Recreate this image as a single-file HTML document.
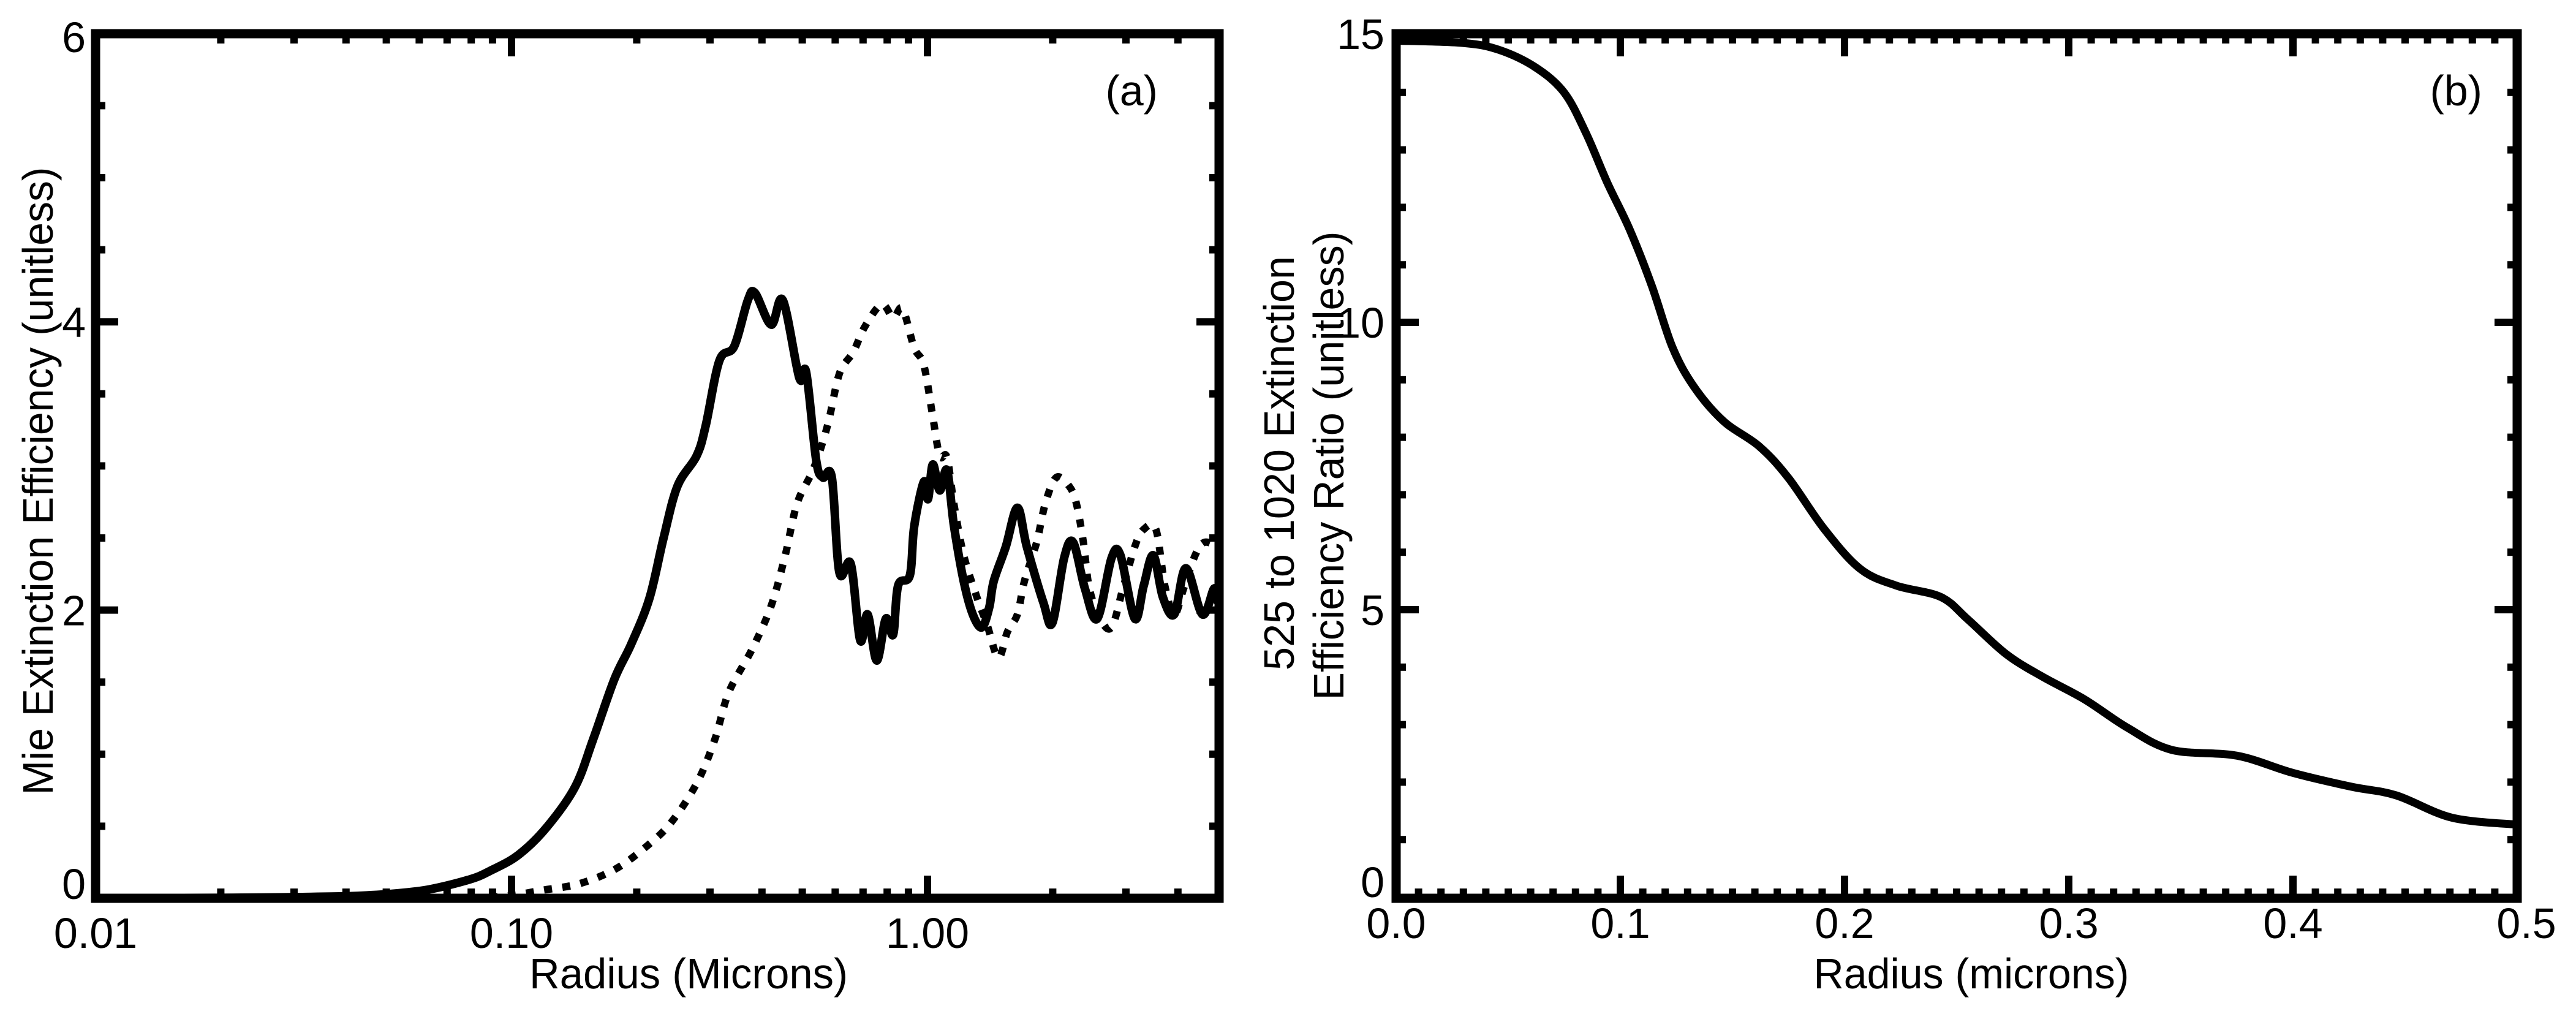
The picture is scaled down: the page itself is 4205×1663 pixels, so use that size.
<!DOCTYPE html>
<html><head><meta charset="utf-8"><style>
html,body{margin:0;padding:0;background:#fff;}
svg{display:block;}
text{font-family:"Liberation Sans",Arial,sans-serif;fill:#000;}
</style></head><body>
<svg id="fig" width="4205" height="1663" viewBox="0 0 4205 1663" xmlns="http://www.w3.org/2000/svg"></svg>
<script>
// ---- Panel (a) data ----
const aSolidR=[0.01,0.02,0.03,0.041,0.051,0.063,0.0792,0.0888,0.1038,0.1213,0.142,0.157,0.1767,0.1937,0.2145,0.232,0.2506,0.2786,0.293,0.316,0.343,0.37,0.385,0.421,0.449,0.492,0.511,0.54,0.56,0.589,0.614,0.654,0.689,0.718,0.755,0.794,0.827,0.85,0.907,0.929,0.98,1.003,1.03,1.07,1.114,1.157,1.222,1.285,1.352,1.408,1.443,1.543,1.645,1.733,1.9,1.996,2.13,2.24,2.39,2.56,2.77,2.91,3.15,3.31,3.49,3.68,3.92,4.18,4.58,4.89,5.0];
const aSolidQ=[0,0.003,0.008,0.015,0.03,0.06,0.13,0.19,0.3,0.49,0.77,1.10,1.52,1.76,2.08,2.5,2.86,3.07,3.28,3.73,3.83,4.15,4.2,3.98,4.15,3.61,3.65,3.04,2.92,2.92,2.26,2.32,1.79,1.97,1.65,1.94,1.83,2.17,2.24,2.58,2.89,2.77,3.01,2.83,2.97,2.59,2.2,1.97,1.88,2.02,2.2,2.44,2.71,2.44,2.05,1.91,2.36,2.47,2.15,1.94,2.36,2.38,1.94,2.17,2.38,2.09,1.97,2.29,1.97,2.15,2.05];
const aDotR=[0.08,0.1,0.118,0.145,0.177,0.209,0.241,0.279,0.308,0.333,0.379,0.421,0.455,0.486,0.532,0.575,0.614,0.663,0.708,0.776,0.827,0.871,0.929,0.98,1.03,1.07,1.114,1.157,1.222,1.318,1.39,1.48,1.557,1.645,1.71,1.83,1.92,2.04,2.19,2.28,2.37,2.45,2.6,2.77,2.95,3.15,3.31,3.54,3.72,3.92,4.13,4.4,4.63,5.0];
const aDotQ=[0,0.02,0.055,0.1,0.2,0.35,0.52,0.8,1.1,1.43,1.73,2.03,2.38,2.74,2.98,3.28,3.64,3.79,3.97,4.12,4.03,4.09,3.82,3.7,3.34,3.07,3.06,2.74,2.38,2.08,1.9,1.67,1.85,1.97,2.2,2.47,2.74,2.92,2.86,2.74,2.47,2.15,1.94,1.88,2.15,2.44,2.56,2.56,2.17,1.97,2.15,2.38,2.47,2.44];
const aXTicks=[0.01,0.1,1];
const aXTickLabels=["0.01","0.10","1.00"];
const aYTicks=[0,2,4,6];
const aYTickLabels=["0","2","4","6"];
// ---- Panel (b) data ----
const bR=[0.0,0.0298,0.0459,0.062,0.0749,0.0846,0.0943,0.104,0.114,0.1233,0.133,0.146,0.162,0.175,0.191,0.207,0.223,0.243,0.255,0.272,0.288,0.307,0.326,0.346,0.375,0.4,0.426,0.446,0.471,0.5];
const bRatio=[14.9,14.86,14.74,14.44,14.0,13.3,12.42,11.63,10.64,9.56,8.87,8.28,7.84,7.29,6.4,5.71,5.42,5.22,4.83,4.23,3.84,3.44,2.95,2.56,2.46,2.16,1.92,1.77,1.38,1.26];
const bXTicks=[0,0.1,0.2,0.3,0.4,0.5];
const bXTickLabels=["0.0","0.1","0.2","0.3","0.4","0.5"];
const bYTicks=[0,5,10,15];
const bYTickLabels=["0","5","10","15"];

const NS="http://www.w3.org/2000/svg";
const svg=document.getElementById('fig');
function mk(tag,attrs,parent){const e=document.createElementNS(NS,tag);for(const k in attrs)e.setAttribute(k,attrs[k]);(parent||svg).appendChild(e);return e;}

const A={x0:156,x1:1990,y0:1466,y1:55};
const B={x0:2279,x1:4109,y0:1466,y1:55};
const ax=r=>A.x0+679*Math.log10(r/0.01);
const ay=q=>A.y0-q*235.2;
const bx=r=>B.x0+r*3660;
const by=v=>1464-v*93.8;

function smoothPath(pts){
  let d='M'+pts[0][0].toFixed(1)+','+pts[0][1].toFixed(1);
  for(let i=0;i<pts.length-1;i++){
    const p0=pts[Math.max(i-1,0)],p1=pts[i],p2=pts[i+1],p3=pts[Math.min(i+2,pts.length-1)];
    const c1x=p1[0]+(p2[0]-p0[0])/6,c1y=p1[1]+(p2[1]-p0[1])/6;
    const c2x=p2[0]-(p3[0]-p1[0])/6,c2y=p2[1]-(p3[1]-p1[1])/6;
    d+='C'+c1x.toFixed(1)+','+c1y.toFixed(1)+' '+c2x.toFixed(1)+','+c2y.toFixed(1)+' '+p2[0].toFixed(1)+','+p2[1].toFixed(1);
  }
  return d;
}

function box(P,name){
  const g=mk('g',{});
  
  
  mk('rect',{x:P.x0,y:P.y1,width:P.x1-P.x0,height:P.y0-P.y1,fill:'none',stroke:'#000','stroke-width':15},g);
  return g;
}
function xtick(g,x,P,len){
  mk('line',{x1:x,y1:P.y0,x2:x,y2:P.y0-len,stroke:'#000','stroke-width':12},g);
  mk('line',{x1:x,y1:P.y1,x2:x,y2:P.y1+len,stroke:'#000','stroke-width':12},g);
}
function ytick(g,y,P,len){
  mk('line',{x1:P.x0,y1:y,x2:P.x0+len,y2:y,stroke:'#000','stroke-width':12},g);
  mk('line',{x1:P.x1,y1:y,x2:P.x1-len,y2:y,stroke:'#000','stroke-width':12},g);
}
function txt(s,attrs,name){
  const t=mk('text',attrs);t.textContent=s;
  
  
  return t;
}

// ===== Panel A =====
const gA=box(A,'panel-a-axes');
const gAt=mk('g',{});


for(let d=0.01;d<5;d*=10){for(let m=1;m<10;m++){const r=d*m;if(r>5)break;xtick(gAt,ax(r),A,m===1?37:16);}}
for(let q=0.5;q<6;q+=0.5){ytick(gAt,ay(q),A,(q%2===0)?37:16);}
aXTicks.forEach((v,i)=>{txt(aXTickLabels[i],{x:ax(v),y:1547,'font-size':70,'text-anchor':'middle'},'panel-a-x-tick-label');});
aYTicks.forEach((v,i)=>{let yb=ay(v)+25;if(v===0)yb=1467;if(v===6)yb=85;txt(aYTickLabels[i],{x:140,y:yb,'font-size':70,'text-anchor':'end'},'panel-a-y-tick-label');});
txt('Radius (Microns)',{x:1124,y:1613,'font-size':70,'text-anchor':'middle',textLength:520,lengthAdjust:'spacingAndGlyphs'},'panel-a-x-axis-title');
txt('Mie Extinction Efficiency (unitless)',{x:0,y:0,'font-size':70,'text-anchor':'middle',textLength:1025,lengthAdjust:'spacingAndGlyphs',transform:'translate(86,785) rotate(-90)'},'panel-a-y-axis-title');
txt('(a)',{x:1890,y:172,'font-size':70,'text-anchor':'end'},'panel-a-label');
const cp=mk('clipPath',{id:'clipA'});
mk('rect',{x:A.x0,y:A.y1,width:A.x1-A.x0,height:A.y0-A.y1},cp);
const solidA=mk('path',{d:smoothPath(aSolidR.map((r,i)=>[ax(r),ay(aSolidQ[i])])),fill:'none',stroke:'#000','stroke-width':14,'stroke-linejoin':'round','clip-path':'url(#clipA)'});


const dotA=mk('path',{d:smoothPath(aDotR.map((r,i)=>[ax(r),ay(aDotQ[i])])),fill:'none',stroke:'#000','stroke-width':12,'stroke-dasharray':'13 17','clip-path':'url(#clipA)'});



// ===== Panel B =====
const gB=box(B,'panel-b-axes');
const gBt=mk('g',{});


for(let k=1;k<50;k++){xtick(gBt,bx(k/100),B,k%10===0?37:16);}
for(let v=1;v<15;v++){ytick(gBt,by(v),B,v%5===0?37:16);}
bXTicks.forEach((v,i)=>{txt(bXTickLabels[i],{x:bx(v)+(v===0.5?15:0),y:1531,'font-size':70,'text-anchor':'middle'},'panel-b-x-tick-label');});
bYTicks.forEach((v,i)=>{let yb=by(v)+25;if(v===0)yb=1464;if(v===15)yb=80;txt(bYTickLabels[i],{x:2260,y:yb,'font-size':70,'text-anchor':'end'},'panel-b-y-tick-label');});
txt('Radius (microns)',{x:3218,y:1613,'font-size':70,'text-anchor':'middle',textLength:515,lengthAdjust:'spacingAndGlyphs'},'panel-b-x-axis-title');
txt('525 to 1020 Extinction',{x:0,y:0,'font-size':70,'text-anchor':'middle',textLength:676,lengthAdjust:'spacingAndGlyphs',transform:'translate(2112,756) rotate(-90)'},'panel-b-y-axis-title-line1');
txt('Efficiency Ratio (unitless)',{x:0,y:0,'font-size':70,'text-anchor':'middle',textLength:765,lengthAdjust:'spacingAndGlyphs',transform:'translate(2193,760) rotate(-90)'},'panel-b-y-axis-title-line2');
txt('(b)',{x:4052,y:172,'font-size':70,'text-anchor':'end'},'panel-b-label');
const lineB=mk('path',{d:smoothPath(bR.map((r,i)=>[bx(r),by(bRatio[i])])),fill:'none',stroke:'#000','stroke-width':13,'stroke-linejoin':'round'});


</script>
</body></html>
